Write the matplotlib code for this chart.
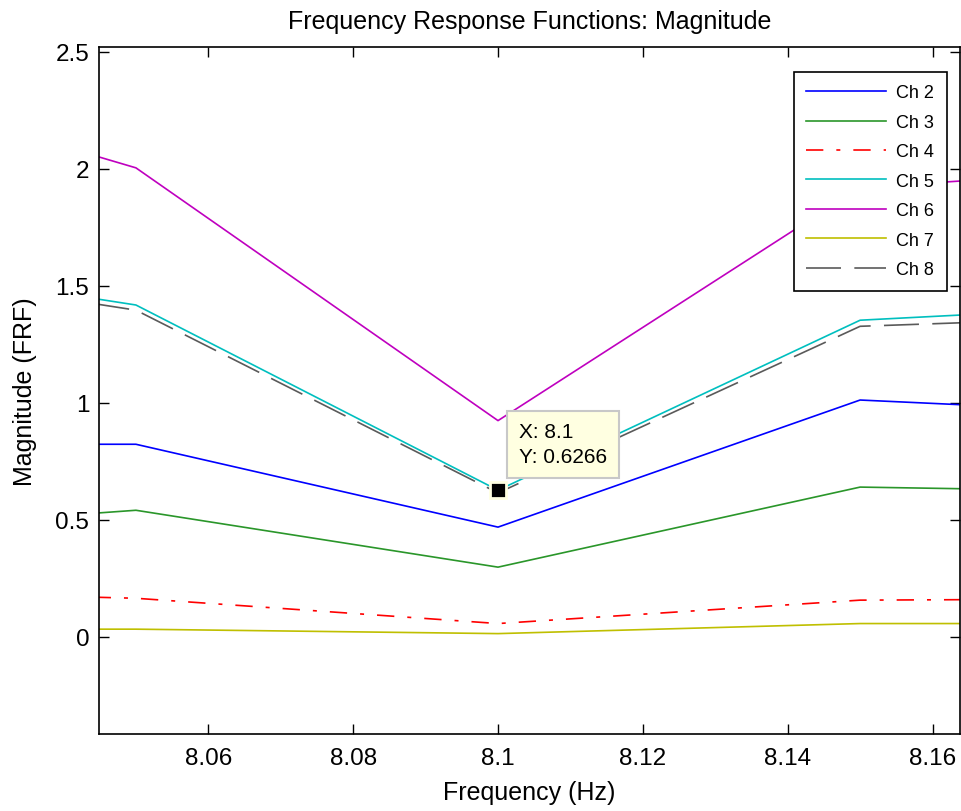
import matplotlib
matplotlib.use("Agg")
import matplotlib.pyplot as plt

plt.rcParams['font.family'] = ['Liberation Sans', 'DejaVu Sans']

# Frequency points (Hz)
freq = [8.00, 8.05, 8.10, 8.15, 8.20]

# FRF magnitudes, one list per channel
ch2 = [0.823, 0.823, 0.469, 1.012, 0.940]
ch3 = [0.430, 0.541, 0.298, 0.640, 0.615]
ch4 = [0.205, 0.165, 0.057, 0.157, 0.164]
ch5 = [1.658, 1.418, 0.6266, 1.353, 1.433]
ch6 = [2.460, 2.004, 0.924, 1.920, 2.020]
ch7 = [0.033, 0.033, 0.014, 0.057, 0.057]
ch8 = [1.636, 1.396, 0.615, 1.327, 1.381]

labels = ['Ch 2', 'Ch 3', 'Ch 4', 'Ch 5', 'Ch 6', 'Ch 7', 'Ch 8']
series = [ch2, ch3, ch4, ch5, ch6, ch7, ch8]
colors = ['#0000ff', '#2a962a', '#ff0000', '#00bfbf', '#bf00bf', '#bfbf00', '#5a5a5a']
styles = ['-', '-', (0, (10.4, 7.8, 2.4, 7.8)), '-', '-', '-', (0, (21, 8))]

# data tip
tip_x, tip_y = 8.1, 0.6266

fig = plt.figure(figsize=(9.61, 8.12), dpi=100)
ax = fig.add_axes([0.103, 0.0948, 0.896, 0.846])

for y, lab, c, ls in zip(series, labels, colors, styles):
    ax.plot(freq, y, color=c, linestyle=ls, linewidth=1.2, label=lab)

ax.set_xlim(8.0449, 8.1638)
ax.set_ylim(-0.415, 2.52)
ax.set_xticks([8.06, 8.08, 8.10, 8.12, 8.14, 8.16])
ax.set_xticklabels(['8.06', '8.08', '8.1', '8.12', '8.14', '8.16'])
ax.set_yticks([0, 0.5, 1, 1.5, 2, 2.5])
ax.set_yticklabels(['0', '0.5', '1', '1.5', '2', '2.5'])
ax.tick_params(direction='in', length=7, width=1, top=True, right=True,
               labelsize=17.5)
ax.tick_params(axis='x', pad=9)
ax.tick_params(axis='y', pad=7)
for sp in ax.spines.values():
    sp.set_linewidth(1.2)

ax.set_title('Frequency Response Functions: Magnitude', fontsize=18, pad=14)
ax.set_xlabel('Frequency (Hz)', fontsize=18, labelpad=8)
ax.set_ylabel('Magnitude (FRF)', fontsize=18, labelpad=13)

leg = ax.legend(loc='upper right', bbox_to_anchor=(0.985, 0.964), borderaxespad=0,
                fontsize=13, fancybox=False, framealpha=1, edgecolor='black',
                handlelength=4.4, labelspacing=0.69, borderpad=0.7,
                handletextpad=0.6)
leg.get_frame().set_linewidth(1.2)

# data cursor marker and its label box
ax.plot(tip_x, tip_y, 's', color='black', markersize=11,
        markeredgecolor='#ffffe1', markeredgewidth=2, zorder=5)
ax.annotate(f'X: {tip_x:g}\nY: {tip_y:g}', xy=(tip_x, tip_y),
            xytext=(65, 46), textcoords='offset pixels',
            ha='center', va='center', multialignment='left',
            fontsize=15, linespacing=1.4,
            bbox=dict(boxstyle='square,pad=0.55', facecolor='#ffffe1',
                      edgecolor='#c8c8c8', linewidth=1.5), zorder=6)

fig.savefig('out.png', dpi=100)
